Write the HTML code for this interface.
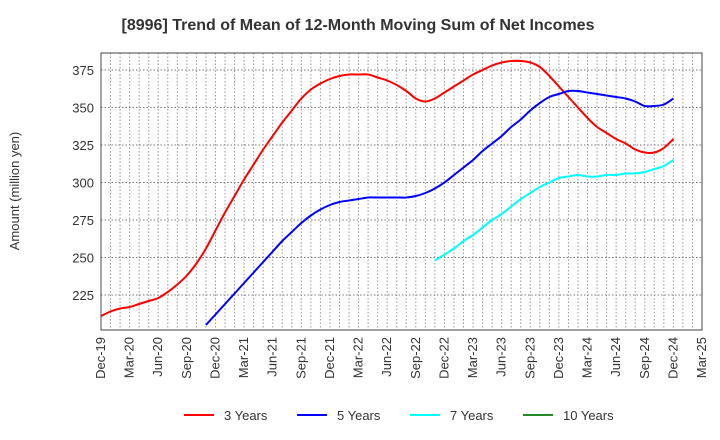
<!DOCTYPE html>
<html><head><meta charset="utf-8"><style>
body{margin:0;background:#fff;}
svg{display:block;font-family:"Liberation Sans",sans-serif;}
</style></head><body>
<svg id="chart" width="720" height="440">
<text x="358" y="30" text-anchor="middle" font-size="16" font-weight="bold" fill="#333">[8996]  Trend of Mean of 12-Month Moving Sum of Net Incomes</text>
<text transform="translate(19,191) rotate(-90)" text-anchor="middle" font-size="13" fill="#333">Amount (million yen)</text>
<g id="grid"></g>
<g id="series"></g>
<rect x="101" y="53" width="601" height="277" fill="none" stroke="#444" stroke-width="1"/>
<g id="yticks"></g>
<g id="xticks"></g>
<g>
<g><line x1="184" y1="415" x2="214" y2="415" stroke="#ff0000" stroke-width="2"/><text x="224" y="420" font-size="13" fill="#333">3 Years</text></g>
<g><line x1="297" y1="415" x2="327" y2="415" stroke="#0000ff" stroke-width="2"/><text x="337" y="420" font-size="13" fill="#333">5 Years</text></g>
<g><line x1="410" y1="415" x2="440" y2="415" stroke="#00ffff" stroke-width="2"/><text x="450" y="420" font-size="13" fill="#333">7 Years</text></g>
<g><line x1="523" y1="415" x2="553" y2="415" stroke="#228b22" stroke-width="2"/><text x="563" y="420" font-size="13" fill="#333">10 Years</text></g>
</g>
</svg>
<script>
const xLabels = ["Dec-19","Mar-20","Jun-20","Sep-20","Dec-20","Mar-21","Jun-21","Sep-21","Dec-21","Mar-22","Jun-22","Sep-22","Dec-22","Mar-23","Jun-23","Sep-23","Dec-23","Mar-24","Jun-24","Sep-24","Dec-24","Mar-25"];
const yTicks = [225,250,275,300,325,350,375];
const start3 = 0;
const values3 = [211,214,216,217,219,221,223,227,232,238,246,256,268,280,291,302,312,322,331,340,348,356,362,366,369,371,372,372,372,370,368,365,361,356,354,356,360,364,368,372,375,378,380,381,381,380,377,371,364,357,350,343,337,333,329,326,322,320,320,323,329];
const start5 = 11;
const values5 = [205,212,219,226,233,240,247,254,261,267,273,278,282,285,287,288,289,290,290,290,290,290,291,293,296,300,305,310,315,321,326,331,337,342,348,353,357,359,361,361,360,359,358,357,356,354,351,351,352,356];
const start7 = 35;
const values7 = [248,252,256,261,265,270,275,279,284,289,293,297,300,303,304,305,304,304,305,305,306,306,307,309,311,315];
const start10 = 0;
const values10 = [];

const X0=101,X1=702,Y0=53,Y1=330,MONTHS=63;
const xs = m => X0 + (X1-X0)*m/MONTHS;
const ys = v => 295 - (v-225)*1.5;
const NS="http://www.w3.org/2000/svg";
function mk(tag,attrs,parent){const e=document.createElementNS(NS,tag);for(const k in attrs)e.setAttribute(k,attrs[k]);parent.appendChild(e);return e;}
const grid=document.getElementById('grid');
for(let m=1;m<MONTHS;m++){
  const l=mk('line',{x1:xs(m),x2:xs(m),y1:Y0,y2:Y1,stroke:'#999','stroke-dasharray':'1.5,2','stroke-width':1},grid);
  
  
}
const yt=document.getElementById('yticks');
yTicks.forEach(v=>{
  const l=mk('line',{x1:X0,x2:X1,y1:ys(v),y2:ys(v),stroke:'#777','stroke-dasharray':'1.5,2','stroke-width':1},grid);
  
  
  const t=mk('text',{x:94,y:ys(v)+5,'text-anchor':'end','font-size':13,fill:'#333'},yt);
  t.textContent=v;
  
  
});
const xt=document.getElementById('xticks');
xLabels.forEach((s,i)=>{
  const x=xs(i*3);
  const t=mk('text',{transform:`translate(${x+4},337) rotate(-90)`,'text-anchor':'end','font-size':13,fill:'#333'},xt);
  t.textContent=s;
  
  
});
function smooth(pts){
  let d=`M${pts[0][0]},${pts[0][1]}`;
  for(let i=0;i<pts.length-1;i++){
    const p0=pts[i-1]||pts[i],p1=pts[i],p2=pts[i+1],p3=pts[i+2]||p2;
    const c1=[p1[0]+(p2[0]-p0[0])/6,p1[1]+(p2[1]-p0[1])/6];
    const c2=[p2[0]-(p3[0]-p1[0])/6,p2[1]-(p3[1]-p1[1])/6];
    d+=` C${c1[0]},${c1[1]} ${c2[0]},${c2[1]} ${p2[0]},${p2[1]}`;
  }
  return d;
}
const sg=document.getElementById('series');
[[values3,start3,'#ff0000','line-3-years'],[values5,start5,'#0000ff','line-5-years'],[values7,start7,'#00ffff','line-7-years'],[values10,start10,'#228b22','line-10-years']].forEach(([vals,st,col,name])=>{
  if(vals.length<2)return;
  const pts=vals.map((v,i)=>[xs(st+i),ys(v)]);
  const p=mk('path',{d:smooth(pts),fill:'none',stroke:col,'stroke-width':2},sg);
  
  
});
</script>
</body></html>
